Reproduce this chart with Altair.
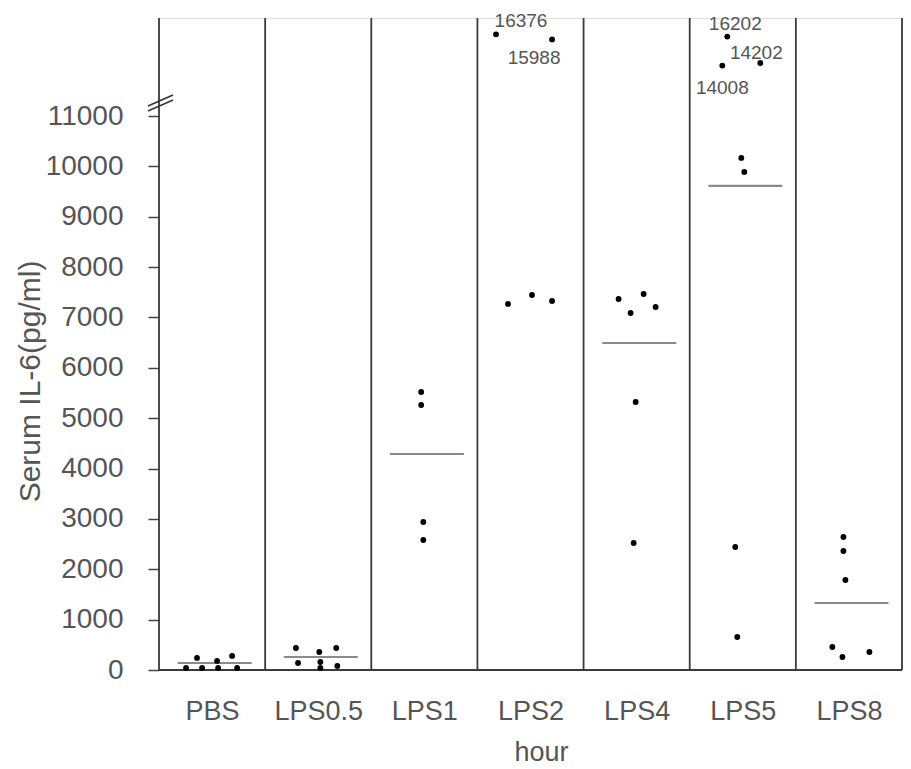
import altair as alt
import pandas as pd

# ---------------- data ----------------
groups = ["PBS", "LPS0.5", "LPS1", "LPS2", "LPS4", "LPS5", "LPS8"]

pbs_values = [40, 240, 40, 180, 40, 280, 40]
pbs_jitter = [-0.245, -0.142, -0.094, 0.047, 0.057, 0.189, 0.236]

lps05_values = [437, 139, 357, 159, 40, 437, 79]
lps05_jitter = [-0.21, -0.19, 0.01, 0.02, 0.02, 0.17, 0.18]

lps1_values = [5520, 5262, 2939, 2581]
lps1_jitter = [-0.03, -0.03, -0.01, -0.01]

lps2_values = [16376, 15988, 7268, 7446, 7327]
lps2_jitter = [-0.325, 0.203, -0.212, 0.014, 0.203]

lps4_values = [7367, 7466, 7089, 7208, 5322, 2522]
lps4_jitter = [-0.17, 0.066, -0.057, 0.179, -0.009, -0.028]

lps5_values = [16202, 14202, 14008, 10167, 9889, 2442, 655]
lps5_jitter = [-0.146, 0.165, -0.193, -0.014, 0.014, -0.071, -0.052]

lps8_values = [2641, 2363, 1787, 457, 258, 357]
lps8_jitter = [-0.052, -0.052, -0.033, -0.156, -0.061, 0.193]

mean_groups = ["PBS", "LPS0.5", "LPS1", "LPS4", "LPS5", "LPS8"]
mean_values = [139, 258, 4289, 6493, 9611, 1330]

labeled_groups = ["LPS2", "LPS2", "LPS5", "LPS5", "LPS5"]
labeled_values = [16376, 15988, 16202, 14202, 14008]
labeled_jitter = [-0.325, 0.203, -0.146, 0.165, -0.193]

y_tick_values = [0, 1000, 2000, 3000, 4000, 5000, 6000, 7000, 8000, 9000, 10000, 11000]

# ---------------- tables ----------------
series = [
    ("PBS", pbs_values, pbs_jitter),
    ("LPS0.5", lps05_values, lps05_jitter),
    ("LPS1", lps1_values, lps1_jitter),
    ("LPS2", lps2_values, lps2_jitter),
    ("LPS4", lps4_values, lps4_jitter),
    ("LPS5", lps5_values, lps5_jitter),
    ("LPS8", lps8_values, lps8_jitter),
]
rows = []
for g, vals, jit in series:
    i = groups.index(g)
    for v, j in zip(vals, jit):
        rows.append({"group": g, "pos": i + 0.5 + j, "value": v})
points_df = pd.DataFrame(rows)

means_df = pd.DataFrame({
    "group": mean_groups,
    "value": mean_values,
    "center": [groups.index(g) + 0.5 for g in mean_groups],
})
means_df["x0"] = means_df["center"] - 0.324
means_df["x1"] = means_df["center"] + 0.373

sep_df = pd.DataFrame({"pos": list(range(len(groups) + 1))})

# ---------------- layout ----------------
W, H = 743, 652
TEXT = "#555555"
FONT = "Liberation Sans"

label_expr = "[" + ",".join("'%s'" % g for g in groups) + "][floor(datum.value)]"

x_scale = alt.Scale(domain=[0, len(groups)], nice=False, zero=False)
y_scale = alt.Scale(domain=[0, 11000, 14000, 16400], range=[H, 98, 47.7, 16],
                    nice=False, zero=False)

x_axis = alt.Axis(
    values=[i + 0.5 for i in range(len(groups))],
    labelExpr=label_expr, ticks=False, tickSize=0, domain=False, grid=False,
    labelPadding=41, labelBaseline="middle", labelFontSize=27, labelColor=TEXT,
    labelFont=FONT, title="hour", titleFontSize=27, titleFont=FONT,
    titleColor=TEXT, titleFontWeight="normal", titleX=382, titleY=82,
    titleBaseline="middle", titleAlign="center", labelFlush=False,
)
y_axis = alt.Axis(
    values=y_tick_values, format="d", domain=False, grid=False,
    ticks=True, tickSize=11, tickColor="#444444", tickWidth=1.5,
    labelPadding=25, labelFontSize=28, labelColor=TEXT, labelFont=FONT,
    title="Serum IL-6(pg/ml)", titleFontSize=30, titleFont=FONT,
    titleColor=TEXT, titleFontWeight="normal", titleX=-129, titleY=363,
    titleAngle=-90, titleAlign="center", titleBaseline="middle",
)

base_x = lambda f: alt.X(f, type="quantitative", scale=x_scale, axis=x_axis)
base_y = lambda f: alt.Y(f, type="quantitative", scale=y_scale, axis=y_axis)

separators = alt.Chart(sep_df).mark_rule(color="#3a3a3a", strokeWidth=1.8).encode(
    x=base_x("pos"), y=alt.value(0), y2=alt.value(H)
)

bottom_line = alt.Chart(sep_df.head(1)).mark_rule(color="#3a3a3a", strokeWidth=2).encode(
    x=alt.value(0), x2=alt.value(W), y=alt.value(H)
)

mean_lines = alt.Chart(means_df).mark_rule(color="#8a8a8a", strokeWidth=2.2).encode(
    x=base_x("x0"), x2="x1", y=base_y("value")
)

dots = alt.Chart(points_df).mark_circle(size=34, color="#000000", opacity=1).encode(
    x=base_x("pos"), y=base_y("value")
)

label_offsets = [(25, -13), (-18, 19), (8, -13), (-4, -10), (0, 22)]
label_layers = []
for g, v, j, (dx, dy) in zip(labeled_groups, labeled_values, labeled_jitter, label_offsets):
    ldf = pd.DataFrame({"pos": [groups.index(g) + 0.5 + j], "value": [v], "txt": [str(v)]})
    label_layers.append(
        alt.Chart(ldf).mark_text(font=FONT, fontSize=19, color=TEXT, dx=dx, dy=dy,
                                 align="center", baseline="middle").encode(
            x=base_x("pos"), y=base_y("value"), text="txt:N"
        )
    )

brk1 = alt.Chart(sep_df.head(1)).mark_rule(color="#333333", strokeWidth=1.5).encode(
    x=alt.value(-11), x2=alt.value(14), y=alt.value(88), y2=alt.value(77)
)
brk2 = alt.Chart(sep_df.head(1)).mark_rule(color="#333333", strokeWidth=1.5).encode(
    x=alt.value(-11), x2=alt.value(14), y=alt.value(93), y2=alt.value(82)
)

chart = alt.layer(
    separators, bottom_line, mean_lines, dots, brk1, brk2, *label_layers
).properties(
    width=W, height=H,
    autosize=alt.AutoSizeParams(type="none"),
    padding={"left": 151, "top": 10, "right": 1, "bottom": 99},
).configure_view(stroke=None).configure(background="white")

chart.save("out.html", embed_options={"renderer": "svg", "actions": False})
